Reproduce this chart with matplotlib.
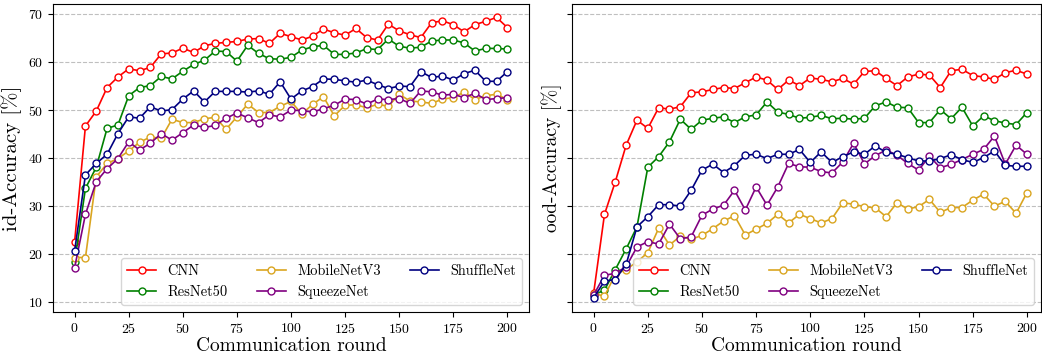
import numpy as np
import matplotlib
matplotlib.use("Agg")
import matplotlib.pyplot as plt

plt.rcParams['font.family'] = ['cmr10', 'DejaVu Serif']
plt.rcParams['mathtext.fontset'] = 'cm'
plt.rcParams['axes.formatter.use_mathtext'] = True

rounds = np.arange(0, 201, 5)
models = ["CNN", "ResNet50", "MobileNetV3", "SqueezeNet", "ShuffleNet"]
colors = ["red", "green", "goldenrod", "purple", "navy"]

# id accuracy
id_cnn = [22.6, 46.7, 49.8, 54.7, 56.9, 58.6, 58.2, 58.9, 61.7, 61.9, 62.9, 62.0, 63.4, 63.9,
          64.1, 64.3, 64.8, 64.9, 63.9, 66.0, 65.3, 64.6, 65.4, 66.9, 66.1, 65.6, 67.0, 65.1,
          64.6, 67.9, 66.5, 65.7, 65.1, 68.2, 68.6, 67.8, 66.3, 67.8, 68.5, 69.3, 67.2]
id_resnet = [18.4, 33.7, 38.1, 46.2, 46.9, 53.0, 54.7, 55.1, 57.0, 56.5, 58.1, 59.5, 60.4, 62.3,
             62.2, 60.2, 63.5, 61.8, 60.7, 60.6, 61.0, 62.5, 63.2, 63.5, 61.6, 61.6, 61.9, 62.8,
             62.6, 64.8, 63.3, 62.9, 63.1, 64.4, 64.6, 64.6, 64.0, 62.3, 62.85, 62.85, 62.7]
id_mobile = [19.3, 19.3, 36.1, 38.9, 39.9, 41.5, 43.3, 44.4, 44.1, 48.1, 47.4, 47.4, 48.2, 48.5,
             46.0, 48.6, 51.25, 49.5, 49.5, 50.8, 51.8, 49.2, 51.2, 52.8, 48.8, 51.0, 51.1, 50.5,
             51.2, 50.8, 53.3, 51.9, 51.7, 51.4, 52.3, 52.6, 53.75, 52.2, 53.0, 53.3, 52.2]
id_squeeze = [17.2, 28.3, 35.1, 37.8, 39.9, 43.4, 41.7, 43.1, 45.1, 43.75, 45.3, 46.9, 46.4, 46.8,
              48.3, 49.4, 48.4, 47.4, 49.0, 48.6, 50.0, 49.9, 49.6, 50.3, 51.0, 52.3, 52.2, 51.25,
              52.3, 52.2, 52.4, 51.4, 54.0, 53.8, 53.1, 53.3, 52.6, 53.5, 52.2, 52.4, 52.6]
id_shuffle = [20.7, 36.5, 38.9, 40.8, 45.1, 48.6, 48.3, 50.7, 49.8, 50.1, 52.3, 54.0, 51.7, 53.9,
              53.9, 53.9, 53.75, 54.0, 53.3, 55.9, 52.3, 54.0, 54.9, 56.5, 56.4, 56.1, 55.8, 56.25,
              55.3, 54.5, 55.0, 54.9, 58.0, 56.8, 57.1, 56.25, 57.6, 58.3, 56.0, 56.0, 58.0]

# ood accuracy
ood_cnn = [11.9, 28.3, 35.1, 42.7, 47.9, 46.2, 50.5, 50.2, 50.7, 53.6, 53.8, 54.3, 54.7, 54.5,
           55.7, 56.9, 56.25, 54.3, 56.25, 55.1, 56.7, 56.4, 55.9, 56.6, 55.4, 58.05, 58.2, 56.6,
           55.1, 56.9, 57.5, 57.3, 54.7, 58.2, 58.5, 57.2, 56.9, 56.4, 57.8, 58.3, 57.5]
ood_resnet = [11.5, 12.5, 16.8, 21.1, 25.7, 38.1, 40.3, 43.4, 48.1, 46.0, 47.9, 48.3, 48.6, 47.4,
              48.6, 49.0, 51.7, 49.6, 49.1, 48.3, 48.5, 48.9, 48.2, 48.3, 48.1, 48.3, 50.9, 51.7,
              50.6, 50.5, 47.4, 47.4, 50.1, 48.2, 50.6, 46.7, 48.8, 47.8, 47.3, 47.0, 49.5]
ood_mobile = [11.8, 11.25, 15.8, 16.8, 18.4, 20.3, 25.4, 21.9, 23.75, 23.1, 23.9, 25.3, 26.9, 28.0,
              24.0, 25.2, 26.4, 28.3, 26.5, 28.3, 27.4, 26.5, 27.4, 30.7, 30.4, 29.9, 29.65, 27.8,
              30.7, 29.4, 29.9, 31.4, 28.7, 29.7, 29.7, 31.25, 32.5, 30.0, 31.0, 28.5, 32.8]
ood_squeeze = [11.5, 15.6, 16.0, 17.4, 21.5, 22.6, 22.1, 26.25, 23.2, 23.6, 28.1, 29.4, 30.2, 33.3,
               29.2, 34.0, 30.2, 34.0, 38.9, 38.2, 38.1, 37.2, 36.9, 39.2, 43.1, 38.8, 40.5, 41.7,
               40.6, 38.9, 37.5, 40.4, 38.0, 38.7, 39.7, 40.8, 41.8, 44.6, 38.75, 42.7, 40.8]
ood_shuffle = [10.9, 14.4, 14.7, 17.9, 25.7, 27.8, 30.3, 30.3, 30.0, 33.3, 37.5, 38.75, 37.0, 38.45,
               40.6, 40.8, 39.9, 40.8, 40.8, 41.8, 39.1, 41.3, 39.1, 40.3, 41.3, 40.8, 42.55, 41.2,
               40.8, 40.1, 39.4, 39.4, 39.9, 40.7, 39.7, 39.1, 40.1, 41.5, 38.5, 38.3, 38.3]

id_data = [id_cnn, id_resnet, id_mobile, id_squeeze, id_shuffle]
ood_data = [ood_cnn, ood_resnet, ood_mobile, ood_squeeze, ood_shuffle]

W, H = 1042, 356
fig = plt.figure(figsize=(W / 100, H / 100), dpi=100)
ax1 = fig.add_axes([53 / W, 44 / H, 476 / W, 308 / H])
ax2 = fig.add_axes([572 / W, 44 / H, 469 / W, 308 / H])

for ax, data, ylab, ysize, xmax in [(ax1, id_data, "id-Accuracy [%]", 15, 210),
                                    (ax2, ood_data, "ood-Accuracy [%]", 14, 206.5)]:
    for vals, name, c in zip(data, models, colors):
        ax.plot(rounds, vals, color=c, label=name, marker='o', markersize=5,
                markerfacecolor='white', markeredgewidth=1.0, linewidth=1.2)
    ax.set_xlim(-10, xmax)
    ax.set_ylim(7.95, 72.1)
    ax.set_xticks(np.arange(0, 201, 25))
    ax.set_yticks(np.arange(10, 71, 10))
    ax.grid(axis='y', linestyle='--', color='#b0b0b0', alpha=0.8, linewidth=0.8)
    ax.set_xlabel("Communication round", fontsize=14, labelpad=1)
    ax.set_ylabel(ylab, fontsize=ysize)
    ax.tick_params(labelsize=10)
    ax.legend(ncol=3, loc='lower right', fontsize=10.4)

ax2.tick_params(labelleft=False)

fig.savefig("out.png", dpi=100)
